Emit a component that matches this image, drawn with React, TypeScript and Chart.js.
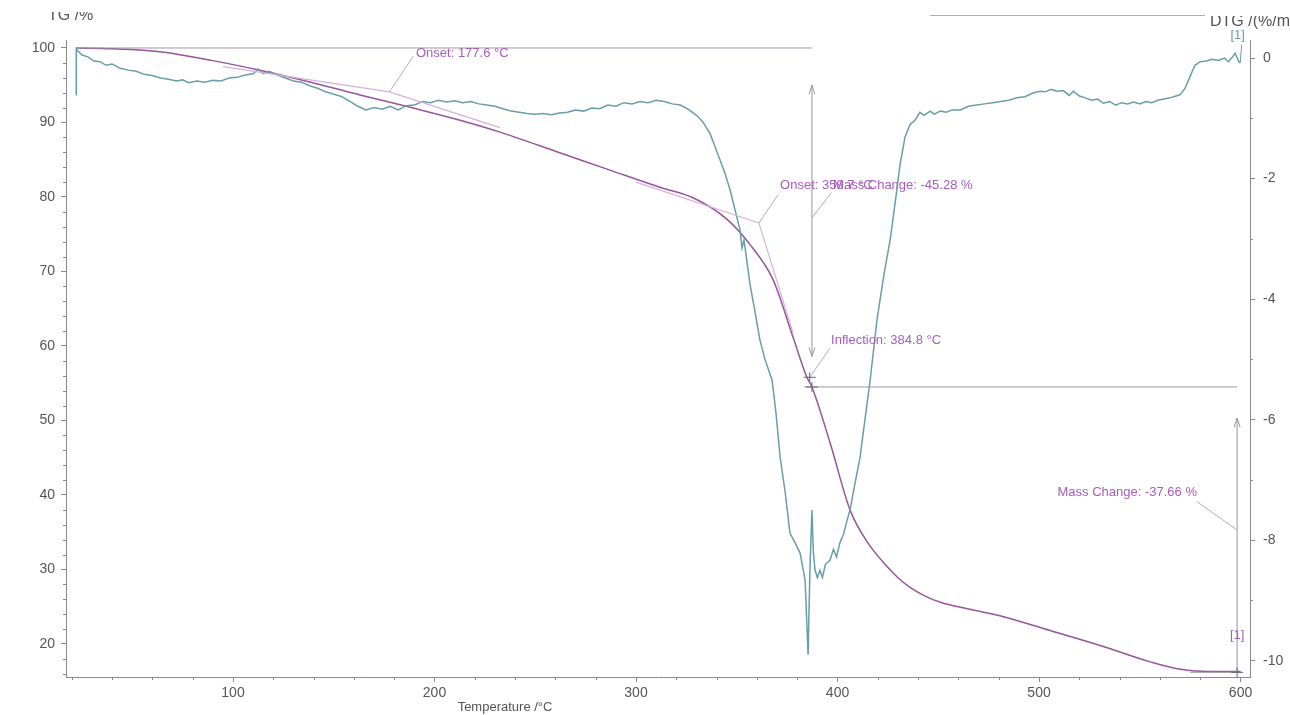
import React, { useEffect, useRef } from "react";
import { Chart, registerables } from "chart.js";

Chart.register(...registerables);

// ---------- data ----------
const tgTemps = [22.1, 40, 63.8, 90, 113.4, 140, 163, 190, 212.7, 232.5, 262.5, 287.1, 311.9, 328.3, 345.2, 356.6, 368.0, 377.9, 384.8, 387.3, 396.3, 406.2, 415, 424.6, 430, 436, 443, 451, 465, 480.6, 505.5, 530.3, 555.2, 570, 585, 600];
const tgValues = [100.0, 99.9, 99.5, 98.3, 97.0, 95.3, 93.7, 91.9, 90.3, 88.7, 85.9, 83.6, 81.3, 79.9, 77.0, 73.6, 68.9, 61.2, 55.8, 54.5, 47.0, 38.0, 33.6, 30.4, 28.9, 27.6, 26.5, 25.6, 24.7, 23.8, 21.8, 19.8, 17.6, 16.6, 16.3, 16.3];

const dtgTemps = [22.1, 22.2, 25, 28, 31, 34, 37, 40, 44, 48, 52, 56, 60, 64, 68, 72, 75, 78, 82, 86, 90, 94, 98, 102, 106, 110, 112.4, 115, 118, 122, 126, 130, 134, 138, 142, 146, 150, 154, 158, 162, 166, 170, 174, 178, 182, 186, 190, 194, 198, 202, 206, 210, 214, 218, 222, 226, 230, 234, 238, 242, 246, 250, 254, 258, 262, 266, 270, 274, 278, 282, 286, 290, 294, 298, 302, 306, 310, 314, 318, 322, 326, 330, 333, 336.7, 339, 341.7, 344, 346.7, 349, 351.6, 352.6, 353.6, 356.6, 359, 361.5, 364, 367.5, 369.5, 371.5, 374, 376.4, 379, 381.4, 383.9, 385.4, 386.3, 387.3, 388.0, 388.8, 390, 391.3, 392.5, 394, 396.3, 398, 399.5, 401.2, 403, 404.5, 406.2, 409, 411.2, 413.6, 416, 419.6, 423, 426.1, 429, 431, 433.5, 436, 438.5, 440.9, 443, 446, 448, 451, 454, 457, 461, 465, 469, 473, 477, 481, 485, 489, 493, 497, 500.5, 503, 506, 509, 512, 515, 517, 520, 523, 526, 529, 532, 535, 538, 541, 544, 547, 550, 553, 556, 559, 562, 565, 568, 570, 572.5, 575, 577.4, 580, 583, 586, 589, 592, 594, 596, 597.3, 599, 599.8];
const dtgValues = [-0.61, 0.15, 0.05, 0.02, -0.05, -0.06, -0.12, -0.10, -0.17, -0.20, -0.22, -0.27, -0.29, -0.33, -0.35, -0.38, -0.36, -0.41, -0.38, -0.40, -0.37, -0.38, -0.33, -0.32, -0.28, -0.26, -0.18, -0.26, -0.22, -0.28, -0.33, -0.38, -0.40, -0.46, -0.50, -0.56, -0.60, -0.64, -0.72, -0.80, -0.86, -0.82, -0.85, -0.80, -0.86, -0.79, -0.78, -0.72, -0.74, -0.70, -0.73, -0.71, -0.74, -0.72, -0.76, -0.78, -0.80, -0.84, -0.88, -0.90, -0.92, -0.93, -0.92, -0.94, -0.91, -0.90, -0.86, -0.88, -0.83, -0.84, -0.78, -0.80, -0.74, -0.76, -0.72, -0.74, -0.70, -0.72, -0.76, -0.78, -0.85, -0.95, -1.05, -1.25, -1.45, -1.69, -1.90, -2.19, -2.50, -2.85, -3.15, -3.02, -3.76, -4.20, -4.68, -5.00, -5.34, -5.90, -6.62, -7.20, -7.88, -8.05, -8.21, -8.66, -9.90, -8.50, -7.50, -8.20, -8.49, -8.62, -8.50, -8.62, -8.40, -8.33, -8.15, -8.28, -8.04, -7.90, -7.70, -7.50, -7.00, -6.62, -6.00, -5.40, -4.34, -3.60, -3.02, -2.30, -1.77, -1.31, -1.10, -1.03, -0.90, -0.95, -0.88, -0.93, -0.88, -0.90, -0.86, -0.86, -0.80, -0.78, -0.76, -0.74, -0.72, -0.70, -0.66, -0.64, -0.58, -0.55, -0.56, -0.52, -0.55, -0.54, -0.62, -0.55, -0.63, -0.66, -0.70, -0.68, -0.75, -0.72, -0.78, -0.74, -0.76, -0.73, -0.76, -0.72, -0.74, -0.70, -0.68, -0.66, -0.63, -0.61, -0.50, -0.30, -0.12, -0.06, -0.05, -0.02, -0.04, 0.00, -0.06, 0.02, 0.08, -0.05, -0.08];

// tick labels
const xTickValues = [100, 200, 300, 400, 500, 600];
const tgTickValues = [20, 30, 40, 50, 60, 70, 80, 90, 100];
const dtgTickValues = [-10, -8, -6, -4, -2, 0];

// axis ranges
const xRange = [17.12, 604.7];
const tgRange = [15.57, 101.07];
const dtgRange = [-10.27, 0.3];

// annotations (temperature, TG%)
const tangentSegments = [
  [95, 97.5, 177.6, 94.1],
  [177.6, 94.1, 232.5, 89.3],
  [300, 82.0, 361.0, 76.5],
  [361.0, 76.5, 378.0, 61.7],
];
const levelLines = [
  [22.1, 100, 387.3, 100],
  [383.5, 54.5, 598.3, 54.5],
  [575, 16.2, 600.5, 16.2],
];
const leaderLines = [
  [177.6, 94.1, 189.5, 98.9],
  [361.0, 76.5, 370.5, 80.3],
  [387.3, 77.2, 397.0, 80.6],
  [386.2, 55.8, 396.3, 59.7],
  [598.3, 35.3, 578.4, 39.1],
];
const arrowSegments = [
  [387.3, 95.0, 387.3, 58.6, 1],
  [598.3, 50.3, 598.3, 16.2, 0],
];
const crossMarks = [
  [386.2, 55.8],
  [387.3, 54.5],
  [598.3, 16.2],
];
const labelTexts = ["Onset: 177.6 °C", "Onset: 359.7 °C", "Mass Change: -45.28 %", "Inflection: 384.8 °C", "Mass Change: -37.66 %", "[1]"];
const labelAnchors = [
  [190.8, 99.3],
  [371.5, 81.6],
  [397.8, 81.6],
  [396.8, 60.7],
  [578.4, 40.3],
  [598.3, 21.2],
];
const labelAligns = ["left", "left", "left", "left", "right", "center"];
const xTitleCenter = 235;

const FONT = "'Liberation Sans', Arial, Helvetica, sans-serif";
const TG_COLOR = "rgb(152,84,156)";
const DTG_COLOR = "rgb(104,158,168)";
const LABEL_COLOR = "rgb(168,92,190)";
const AXIS_COLOR = "#8a8a8a";

const annotationPlugin = {
  id: "annot",
  afterDatasetsDraw(chart: any) {
    const ctx = chart.ctx as CanvasRenderingContext2D;
    const xs = chart.scales.x;
    const ys = chart.scales.tg;
    const yd = chart.scales.dtg;
    const X = (v: number) => xs.getPixelForValue(v);
    const Y = (v: number) => ys.getPixelForValue(v);
    const YD = (v: number) => yd.getPixelForValue(v);
    const seg = (a: number[], color: string, w = 1) => {
      ctx.strokeStyle = color;
      ctx.lineWidth = w;
      ctx.beginPath();
      ctx.moveTo(X(a[0]), Y(a[1]));
      ctx.lineTo(X(a[2]), Y(a[3]));
      ctx.stroke();
    };
    ctx.save();
    tangentSegments.forEach((s) => seg(s, "rgb(214,176,218)", 1.2));
    levelLines.forEach((s) => seg(s, "rgb(160,150,165)", 1));
    leaderLines.forEach((s) => seg(s, "rgb(175,175,175)", 1));
    arrowSegments.forEach((s) => {
      seg(s, "rgb(150,150,158)", 1);
      const x = X(s[0]);
      const yTop = Y(s[1]);
      const yBot = Y(s[3]);
      ctx.beginPath();
      ctx.moveTo(x - 3, yTop + 9);
      ctx.lineTo(x, yTop);
      ctx.lineTo(x + 3, yTop + 9);
      if (s[4]) {
        ctx.moveTo(x - 3, yBot - 9);
        ctx.lineTo(x, yBot);
        ctx.lineTo(x + 3, yBot - 9);
      }
      ctx.stroke();
    });
    crossMarks.forEach((c) => {
      const x = X(c[0]);
      const y = Y(c[1]);
      ctx.strokeStyle = "rgb(110,100,115)";
      ctx.lineWidth = 1;
      ctx.beginPath();
      ctx.moveTo(x - 6, y);
      ctx.lineTo(x + 6, y);
      ctx.moveTo(x, y - 5);
      ctx.lineTo(x, y + 5);
      ctx.stroke();
    });
    ctx.font = `13px ${FONT}`;
    ctx.fillStyle = LABEL_COLOR;
    ctx.textBaseline = "middle";
    labelTexts.forEach((t, i) => {
      ctx.textAlign = labelAligns[i] as CanvasTextAlign;
      ctx.fillText(t, X(labelAnchors[i][0]), Y(labelAnchors[i][1]));
    });
    // DTG end marker "[1]"
    ctx.strokeStyle = DTG_COLOR;
    ctx.beginPath();
    ctx.moveTo(X(599.8), YD(-0.08));
    ctx.lineTo(X(600.6), YD(0.22));
    ctx.stroke();
    ctx.fillStyle = DTG_COLOR;
    ctx.textAlign = "center";
    ctx.fillText("[1]", X(598.6), YD(0.38));

    // minor ticks
    ctx.strokeStyle = AXIS_COLOR;
    ctx.lineWidth = 1;
    ctx.beginPath();
    for (let v = 20; v <= 600; v += 20) {
      if (v % 100 === 0) continue;
      const x = Math.round(X(v)) + 0.5;
      ctx.moveTo(x, xs.top);
      ctx.lineTo(x, xs.top + 3);
    }
    for (let v = 16; v <= 100; v += 2) {
      if (v % 10 === 0) continue;
      const y = Math.round(Y(v)) + 0.5;
      ctx.moveTo(ys.right, y);
      ctx.lineTo(ys.right - 3, y);
    }
    for (let v = -10; v <= 0; v += 1) {
      if (v % 2 === 0) continue;
      const y = Math.round(YD(v)) + 0.5;
      ctx.moveTo(yd.left, y);
      ctx.lineTo(yd.left + 3, y);
    }
    ctx.stroke();

    // axis titles
    ctx.fillStyle = "#555";
    ctx.font = `13px ${FONT}`;
    ctx.textAlign = "center";
    ctx.textBaseline = "middle";
    ctx.fillText("Temperature /°C", X(xTitleCenter), 707);

    // scan line at the top
    ctx.strokeStyle = "rgb(175,175,175)";
    ctx.beginPath();
    ctx.moveTo(930, 15.5);
    ctx.lineTo(1205, 15.5);
    ctx.stroke();

    ctx.font = `16px ${FONT}`;
    ctx.textBaseline = "alphabetic";
    ctx.save();
    ctx.beginPath();
    ctx.rect(0, 12, 300, 30);
    ctx.clip();
    ctx.textAlign = "left";
    ctx.fillText("TG /%", 48, 20);
    ctx.restore();
    ctx.save();
    ctx.beginPath();
    ctx.rect(1100, 16, 190, 30);
    ctx.clip();
    ctx.textAlign = "left";
    ctx.fillText("DTG /(%/min)", 1210, 26);
    ctx.restore();

    ctx.restore();
  },
};

function fixedTicks(values: number[]) {
  return (scale: any) => {
    scale.ticks = values.map((v) => ({ value: v }));
  };
}

export default function App() {
  const canvasRef = useRef<HTMLCanvasElement | null>(null);

  useEffect(() => {
    const canvas = canvasRef.current;
    if (!canvas) return;
    const tgData = tgTemps.map((t, i) => ({ x: t, y: tgValues[i] }));
    const dtgData = dtgTemps.map((t, i) => ({ x: t, y: dtgValues[i] }));
    const tickFont = { family: FONT, size: 14 };
    const chart = new Chart(canvas, {
      type: "line",
      data: {
        datasets: [
          {
            label: "DTG",
            data: dtgData,
            yAxisID: "dtg",
            borderColor: DTG_COLOR,
            borderWidth: 1.5,
            pointRadius: 0,
            tension: 0,
          },
          {
            label: "TG",
            data: tgData,
            yAxisID: "tg",
            borderColor: TG_COLOR,
            borderWidth: 1.5,
            pointRadius: 0,
            cubicInterpolationMode: "monotone",
          },
        ],
      },
      options: {
        animation: false,
        responsive: false,
        devicePixelRatio: 1,
        layout: { padding: { top: 40, left: 0, right: 0, bottom: 0 } },
        plugins: { legend: { display: false }, tooltip: { enabled: false } },
        scales: {
          x: {
            type: "linear",
            min: xRange[0],
            max: xRange[1],
            afterBuildTicks: fixedTicks(xTickValues),
            afterFit: (s: any) => {
              s.height = 38;
            },
            ticks: { font: tickFont, color: "#555", padding: 3, maxRotation: 0 },
            grid: { display: true, drawOnChartArea: false, tickLength: 5, color: AXIS_COLOR },
            border: { display: true, color: AXIS_COLOR },
          },
          tg: {
            type: "linear",
            position: "left",
            min: tgRange[0],
            max: tgRange[1],
            afterBuildTicks: fixedTicks(tgTickValues),
            afterFit: (s: any) => {
              s.width = 66;
            },
            ticks: { font: tickFont, color: "#555", padding: 6 },
            grid: { display: true, drawOnChartArea: false, tickLength: 5, color: AXIS_COLOR },
            border: { display: true, color: AXIS_COLOR },
          },
          dtg: {
            type: "linear",
            position: "right",
            min: dtgRange[0],
            max: dtgRange[1],
            afterBuildTicks: fixedTicks(dtgTickValues),
            afterFit: (s: any) => {
              s.width = 40;
            },
            ticks: { font: tickFont, color: "#555", padding: 8 },
            grid: { display: true, drawOnChartArea: false, tickLength: 5, color: AXIS_COLOR },
            border: { display: true, color: AXIS_COLOR },
          },
        },
      },
      plugins: [annotationPlugin],
    } as any);
    return () => chart.destroy();
  }, []);

  return (
    <div style={{ position: "fixed", left: 0, top: 0, width: 1290, height: 715, background: "#fff" }}>
      <canvas ref={canvasRef} width={1290} height={715} style={{ width: 1290, height: 715, display: "block" }} />
    </div>
  );
}
